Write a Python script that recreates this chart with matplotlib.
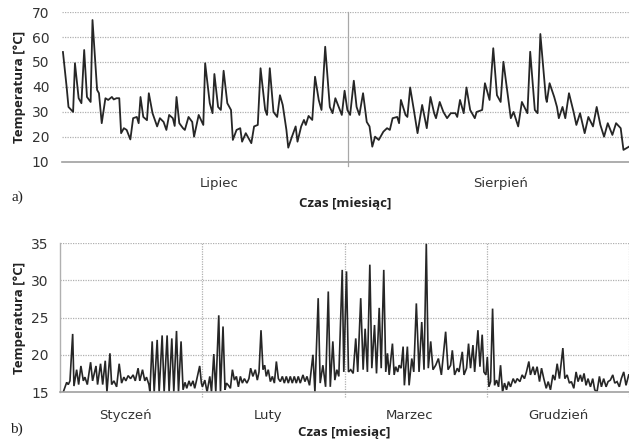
import matplotlib.pyplot as plt

# (a) summer: day counted from 1 July, temperature in °C
summer_day = [0.1, 0.5, 0.7, 1.2, 1.4, 1.8, 2.1, 2.4, 2.7, 3.1, 3.3, 3.8, 4.0, 4.3, 4.7,
              5.0, 5.4, 5.6, 5.9, 6.2, 6.4, 6.7, 7.0, 7.4, 7.7, 8.1, 8.3, 8.5, 8.8, 9.2,
              9.4, 9.8, 10.3, 10.6, 11.0, 11.3, 11.6, 12.0, 12.2, 12.4, 12.7, 13.1, 13.3,
              13.7, 14.1, 14.3, 14.8, 15.3, 15.5, 16.0, 16.3, 16.5, 16.9, 17.2, 17.5,
              17.9, 18.3, 18.5, 18.9, 19.3, 19.5, 19.9, 20.5, 20.8, 21.2, 21.5, 22.0,
              22.2, 22.5, 22.9, 23.3, 23.6, 23.9, 24.3, 24.5, 24.9, 25.3, 25.5, 25.9,
              26.2, 26.4, 26.7, 27.1, 27.4, 27.8, 28.1, 28.5, 29.0, 29.3, 29.6, 30.1,
              30.3, 30.6, 30.9, 31.2, 31.6, 31.9, 32.2, 32.6, 33.0, 33.3, 33.6, 33.9,
              34.3, 34.5, 34.8, 35.2, 35.5, 35.8, 36.3, 36.5, 36.7, 37.2, 37.4, 37.7,
              38.1, 38.5, 39.0, 39.5, 39.9, 40.3, 40.5, 40.9, 41.3, 41.7, 42.1, 42.6,
              42.8, 43.1, 43.5, 43.8, 44.2, 44.7, 44.9, 45.5, 45.8, 46.3, 46.7, 47.1,
              47.5, 47.8, 48.2, 48.6, 48.9, 49.4, 49.8, 50.4, 50.7, 51.2, 51.5, 51.8,
              52.4, 52.5, 52.8, 53.3, 53.6, 53.8, 54.2, 54.5, 54.9, 55.4, 55.7, 56.1,
              56.6, 57.0, 57.5, 57.9, 58.3, 58.7, 59.1, 59.6, 60.0, 60.5, 60.8, 61.4]
summer_temp = [54.0, 40.0, 32.0, 30.0, 49.5, 35.5, 33.5, 54.8, 36.0, 34.0, 66.8, 38.8, 37.5,
               25.5, 35.5, 34.8, 36.0, 35.0, 35.5, 35.5, 21.5, 23.5, 22.8, 19.0, 27.5, 28.0,
               25.5, 36.0, 28.0, 26.7, 37.5, 29.5, 24.2, 27.5, 26.0, 22.8, 28.8, 27.5, 24.4,
               36.0, 25.5, 23.5, 22.8, 28.0, 26.0, 20.1, 28.8, 24.8, 49.5, 33.5, 29.5, 45.2,
               32.0, 30.8, 46.5, 33.5, 30.8, 18.8, 22.8, 23.5, 18.1, 21.5, 17.5, 24.2, 24.8,
               47.5, 30.8, 28.8, 47.5, 30.0, 28.0, 36.7, 32.8, 22.8, 15.7, 20.1, 24.2, 18.1,
               24.2, 26.8, 24.8, 28.4, 26.8, 44.1, 34.8, 30.8, 56.1, 32.0, 29.5, 35.5, 30.8,
               28.8, 38.5, 30.8, 28.8, 42.5, 32.0, 28.8, 37.5, 26.0, 24.2, 16.1, 20.1, 18.8,
               20.1, 22.1, 23.5, 22.8, 27.5, 28.0, 25.5, 34.8, 28.8, 28.0, 39.8, 30.8, 21.5,
               32.8, 23.5, 36.0, 29.5, 27.5, 34.0, 30.0, 27.5, 29.5, 29.5, 28.0, 34.8, 29.5,
               39.8, 30.8, 27.5, 30.0, 30.8, 41.5, 34.8, 55.5, 36.7, 34.0, 50.1, 38.8, 27.5,
               30.0, 24.2, 34.0, 29.5, 54.1, 30.8, 29.5, 61.2, 35.5, 34.0, 41.5, 36.0, 32.0,
               27.5, 32.0, 27.5, 37.5, 30.0, 24.8, 29.5, 21.5, 28.0, 24.2, 32.0, 24.8, 20.1,
               25.5, 20.8, 25.5, 23.5, 14.8, 16.1]
summer_months = ["Lipiec", "Sierpień"]
summer_label_pos = [17.0, 47.5]
summer_bounds = [31.0]

# (b) winter/spring: position in months (each month one unit), temperature in °C
winter_t = [0.023, 0.047, 0.058, 0.070, 0.089, 0.098, 0.117, 0.131, 0.147, 0.164, 0.175,
            0.192, 0.215, 0.229, 0.253, 0.264, 0.285, 0.300, 0.318, 0.330, 0.351, 0.363,
            0.379, 0.398, 0.416, 0.433, 0.449, 0.463, 0.479, 0.496, 0.514, 0.529, 0.549,
            0.561, 0.580, 0.596, 0.608, 0.625, 0.632, 0.648, 0.662, 0.683, 0.697, 0.718,
            0.732, 0.753, 0.767, 0.786, 0.800, 0.819, 0.833, 0.851, 0.865, 0.879, 0.891,
            0.907, 0.919, 0.935, 0.947, 0.959, 0.982, 0.994,
            1.001, 1.018, 1.034, 1.053, 1.065, 1.081, 1.095, 1.116, 1.128, 1.146, 1.160,
            1.170, 1.184, 1.198, 1.212, 1.226, 1.240, 1.254, 1.268, 1.282, 1.296, 1.314,
            1.328, 1.340, 1.356, 1.373, 1.387, 1.399, 1.413, 1.427, 1.439, 1.450, 1.464,
            1.479, 1.493, 1.507, 1.521, 1.535, 1.549, 1.563, 1.577, 1.591, 1.605, 1.619,
            1.633, 1.647, 1.661, 1.675, 1.689, 1.708, 1.722, 1.736, 1.754, 1.778, 1.792,
            1.815, 1.829, 1.848, 1.867, 1.886, 1.900, 1.918, 1.932, 1.946, 1.960, 1.984,
            1.995,
            2.014, 2.028, 2.044, 2.061, 2.079, 2.093, 2.114, 2.131, 2.145, 2.161, 2.178,
            2.192, 2.211, 2.225, 2.244, 2.258, 2.276, 2.290, 2.302, 2.314, 2.337, 2.349,
            2.360, 2.374, 2.384, 2.398, 2.412, 2.421, 2.442, 2.454, 2.473, 2.487, 2.505,
            2.524, 2.543, 2.559, 2.575, 2.589, 2.606, 2.622, 2.641, 2.660, 2.681, 2.695,
            2.711, 2.728, 2.746, 2.758, 2.774, 2.793, 2.805, 2.828, 2.840, 2.858, 2.872,
            2.886, 2.903, 2.915, 2.938, 2.952, 2.968, 2.980, 2.994,
            3.004, 3.015, 3.027, 3.041, 3.055, 3.069, 3.083, 3.097, 3.111, 3.125, 3.139,
            3.153, 3.167, 3.186, 3.200, 3.214, 3.233, 3.249, 3.265, 3.279, 3.296, 3.307,
            3.326, 3.338, 3.354, 3.371, 3.385, 3.401, 3.418, 3.432, 3.448, 3.465, 3.479,
            3.495, 3.511, 3.535, 3.549, 3.565, 3.581, 3.595, 3.612, 3.628, 3.642, 3.658,
            3.670, 3.684, 3.698, 3.712, 3.729, 3.745, 3.759, 3.775, 3.792, 3.806, 3.822,
            3.839, 3.853, 3.869, 3.886, 3.900, 3.916, 3.932, 3.946, 3.963, 3.979, 3.998]
winter_temp = [15.0, 16.3, 16.0, 16.5, 22.8, 15.8, 18.0, 16.0, 18.5, 16.5, 17.0, 16.0, 19.0,
               16.5, 18.5, 16.0, 18.8, 16.0, 19.2, 15.0, 20.2, 16.0, 16.5, 15.7, 18.8, 16.2,
               17.0, 16.5, 17.2, 16.8, 17.3, 16.5, 18.2, 16.5, 18.0, 16.5, 17.0, 16.0, 15.0,
               21.8, 15.0, 22.0, 15.0, 22.6, 15.0, 22.6, 15.0, 22.2, 15.0, 23.2, 15.0, 21.8,
               15.3, 16.3, 15.5, 16.5, 15.8, 16.5, 15.5, 16.5, 18.5, 16.2,
               15.7, 16.6, 15.0, 17.1, 15.0, 20.1, 15.0, 25.3, 15.0, 23.8, 15.3, 16.2, 15.9,
               15.5, 18.0, 16.6, 17.1, 15.7, 17.1, 16.2, 16.8, 16.2, 16.8, 18.2, 17.1, 18.0,
               16.6, 17.7, 23.3, 18.0, 18.6, 17.1, 18.0, 16.4, 17.1, 16.2, 19.1, 16.8, 16.4,
               17.1, 16.2, 17.1, 16.2, 17.1, 16.2, 17.1, 16.2, 17.1, 16.2, 17.3, 16.4, 17.1,
               15.9, 20.0, 15.0, 27.6, 16.2, 18.6, 15.7, 28.5, 15.7, 21.8, 16.6, 18.0, 17.1,
               31.4, 17.7,
               31.2, 17.7, 18.0, 17.5, 22.2, 17.7, 27.6, 18.0, 23.5, 17.7, 32.1, 18.2, 24.0,
               17.5, 26.3, 18.2, 31.4, 17.7, 20.2, 17.3, 21.5, 17.3, 18.4, 17.7, 18.6, 18.2,
               21.1, 15.9, 21.1, 15.9, 19.5, 17.7, 26.9, 17.7, 24.4, 18.0, 34.9, 18.2, 21.8,
               18.0, 18.6, 19.5, 17.3, 20.0, 23.1, 18.0, 18.6, 20.6, 17.3, 18.2, 17.7, 20.4,
               17.3, 18.2, 21.5, 18.2, 21.3, 17.7, 23.3, 18.4, 22.7, 17.7, 17.3,
               19.7, 15.7, 16.4, 26.2, 15.9, 16.6, 15.7, 18.6, 15.0, 16.2, 15.3, 16.4, 15.7,
               16.8, 16.2, 16.8, 16.4, 17.3, 16.8, 17.7, 19.1, 17.3, 18.4, 17.3, 18.4, 16.4,
               18.2, 16.8, 15.5, 16.4, 15.3, 17.3, 16.6, 18.8, 16.8, 20.9, 16.8, 17.3, 16.2,
               16.4, 15.5, 17.7, 16.4, 17.3, 16.4, 17.5, 15.9, 16.8, 15.7, 16.8, 15.3, 15.0,
               17.1, 15.7, 16.8, 15.7, 16.4, 16.6, 17.3, 16.2, 16.4, 15.7, 16.8, 17.7, 15.9,
               17.3]
winter_months = ["Styczeń", "Luty", "Marzec", "Grudzień"]
winter_label_pos = [0.46, 1.46, 2.46, 3.5]
winter_bounds = [1, 2, 3]

line_col = "#262626"
grid_col = "#b0b0b0"
tick_font = "DejaVu Sans"
label_font = "Open Sans"

fig = plt.figure(figsize=(6.29, 4.46), dpi=100)

# --- panel a) ---
ax1 = fig.add_axes([0.0986, 0.637, 0.9014, 0.336])
ax1.plot(summer_day, summer_temp, color=line_col, lw=1.3, solid_joinstyle="round")
ax1.set_xlim(0, 61.4)
ax1.set_ylim(10, 70)
ax1.set_yticks(range(10, 71, 10))
for v in range(20, 71, 10):
    ax1.axhline(v, color=grid_col, lw=0.9, ls=(0, (1, 1)), zorder=0)
for b in summer_bounds:
    ax1.axvline(b, ymin=-0.03, ymax=1, color="#a8a8a8", lw=0.9, clip_on=False, zorder=0)
ax1.set_xticks(summer_label_pos)
ax1.set_xticklabels(summer_months, fontsize=9.5, family=tick_font, color="#333333")
ax1.tick_params(axis="x", length=0, pad=11)
ax1.tick_params(axis="y", length=0, pad=9, labelsize=10, colors="#333333")
for s in ["top", "right", "left"]:
    ax1.spines[s].set_visible(False)
ax1.spines["bottom"].set_color("#a0a0a0")
ax1.spines["bottom"].set_linewidth(1.2)
ax1.set_ylabel("Temperatura [°C]", fontsize=9.5, fontweight="bold", family=label_font,
               color="#222222", labelpad=4)
ax1.set_xlabel("Czas [miesiąc]", fontsize=9.5, fontweight="bold", family=label_font,
               color="#222222", labelpad=5)

# --- panel b) ---
ax2 = fig.add_axes([0.0954, 0.121, 0.9046, 0.334])
ax2.plot(winter_t, winter_temp, color=line_col, lw=1.2, solid_joinstyle="miter")
ax2.set_xlim(0, 4.0)
ax2.set_ylim(15, 35)
ax2.set_yticks(range(15, 36, 5))
for v in range(20, 36, 5):
    ax2.axhline(v, color=grid_col, lw=0.9, ls=(0, (1, 1)), zorder=0)
for b in winter_bounds + [4]:
    ax2.axvline(b, ymin=-0.03, ymax=1, color=grid_col, lw=0.9, ls=(0, (1, 1)),
                clip_on=False, zorder=0)
ax2.set_xticks(winter_label_pos)
ax2.set_xticklabels(winter_months, fontsize=9.5, family=tick_font, color="#333333")
ax2.tick_params(axis="x", length=0, pad=12)
ax2.tick_params(axis="y", length=0, pad=8, labelsize=10, colors="#333333")
for s in ["top", "right"]:
    ax2.spines[s].set_visible(False)
ax2.spines["bottom"].set_color("#a0a0a0")
ax2.spines["bottom"].set_linewidth(1.2)
ax2.spines["left"].set_color("#b0b0b0")
ax2.spines["left"].set_linewidth(1.0)
ax2.set_ylabel("Temperatura [°C]", fontsize=9.5, fontweight="bold", family=label_font,
               color="#222222", labelpad=4)
ax2.set_xlabel("Czas [miesiąc]", fontsize=9.5, fontweight="bold", family=label_font,
               color="#222222", labelpad=3)

fig.text(0.018, 0.55, "a)", fontsize=11, family="Liberation Serif", color="#222222")
fig.text(0.016, 0.03, "b)", fontsize=11, family="Liberation Serif", color="#222222")

fig.savefig("out.png", dpi=100)
